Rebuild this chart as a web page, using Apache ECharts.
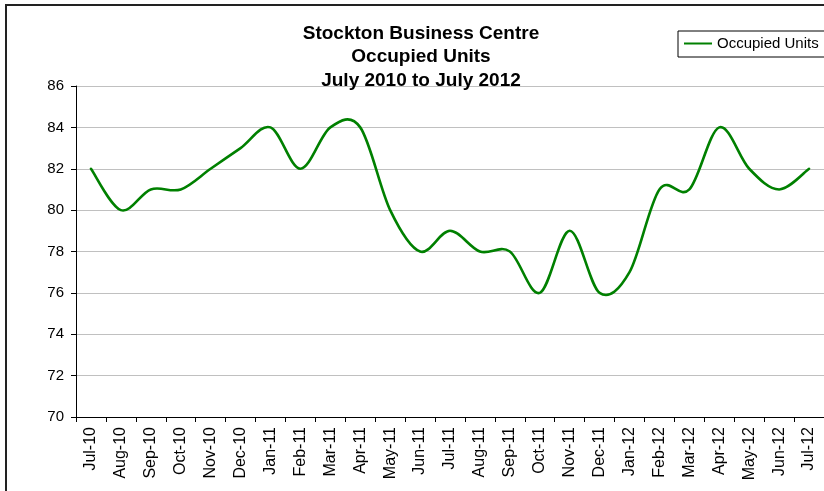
<!DOCTYPE html>
<html>
<head>
<meta charset="utf-8">
<script src="https://cdn.jsdelivr.net/npm/echarts@6/dist/echarts.min.js"></script>
<style>html,body{margin:0;padding:0;background:#fff}#c{width:824px;height:491px}</style>
</head>
<body>
<div id="c"></div>
<script>
var categories = ["Jul-10","Aug-10","Sep-10","Oct-10","Nov-10","Dec-10","Jan-11","Feb-11","Mar-11","Apr-11","May-11","Jun-11","Jul-11","Aug-11","Sep-11","Oct-11","Nov-11","Dec-11","Jan-12","Feb-12","Mar-12","Apr-12","May-12","Jun-12","Jul-12"];
var occupiedUnits = [82,80,81,81,82,83,84,82,84,84,80,78,79,78,78,76,79,76,77,81,81,84,82,81,82];
var yTicks = {min:70, max:86, interval:2};
var titleLines = ["Stockton Business Centre","Occupied Units","July 2010 to July 2012"];
var seriesName = "Occupied Units";

var chart = echarts.init(document.getElementById('c'), null, {renderer:'canvas'});
var font = 'Arial, "Liberation Sans", sans-serif';
var lineColor = '#008000';

// Excel-style smoothed line (Catmull-Rom bezier), points placed through the axes via api.coord
function renderSmooth(params, api) {
  if (params.dataIndex !== 0) return null;
  var pts = occupiedUnits.map(function (v, i) { return api.coord([i, v]); });
  var n = pts.length;
  var d = 'M' + pts[0][0] + ' ' + pts[0][1];
  for (var i = 0; i < n - 1; i++) {
    var p0 = pts[Math.max(i - 1, 0)], p1 = pts[i], p2 = pts[i + 1], p3 = pts[Math.min(i + 2, n - 1)];
    var c1x = p1[0] + (p2[0] - p0[0]) / 6, c1y = p1[1] + (p2[1] - p0[1]) / 6;
    var c2x = p2[0] - (p3[0] - p1[0]) / 6, c2y = p2[1] - (p3[1] - p1[1]) / 6;
    d += ' C' + c1x + ' ' + c1y + ' ' + c2x + ' ' + c2y + ' ' + p2[0] + ' ' + p2[1];
  }
  return {
    type: 'path',
    shape: { pathData: d },
    style: { fill: 'none', stroke: lineColor, lineWidth: 2.6, lineJoin: 'round', lineCap: 'round' },
    silent: true
  };
}

chart.setOption({
  animation:false,
  backgroundColor:'#fff',
  graphic:[{type:'rect', shape:{x:6,y:5,width:840,height:500}, style:{fill:'none',stroke:'#222',lineWidth:2}, silent:true, z:100}],
  title:{
    text: titleLines.join('\n'),
    left: 416, top: 17, textAlign:'center',
    textStyle:{fontFamily:font, fontWeight:'bold', fontSize:19, color:'#000', lineHeight:23.5}
  },
  legend:{
    left: 678, top: 31,
    itemWidth: 28, itemHeight: 2, itemGap: 10,
    padding:[5,8,6,6],
    borderColor:'#000', borderWidth:1,
    icon:'rect',
    textStyle:{fontFamily:font, fontSize:15, color:'#000'},
    data:[{name:seriesName, itemStyle:{color:lineColor}}]
  },
  grid:{left:76, top:86, right:-4, bottom:74, containLabel:false},
  xAxis:{
    type:'category', data:categories, boundaryGap:true,
    axisLine:{lineStyle:{color:'#000', width:1}},
    axisTick:{show:true, interval:0, alignWithLabel:false, length:5, lineStyle:{color:'#000'}},
    axisLabel:{interval:0, rotate:90, fontFamily:font, fontSize:16, color:'#000', margin:10},
    splitLine:{show:false}
  },
  yAxis:{
    type:'value', min:yTicks.min, max:yTicks.max, interval:yTicks.interval,
    axisLine:{show:true, lineStyle:{color:'#000', width:1}},
    axisTick:{show:true, length:5, lineStyle:{color:'#000'}},
    axisLabel:{fontFamily:font, fontSize:15, color:'#000', margin:12},
    splitLine:{lineStyle:{color:'#c0c0c0', width:1}}
  },
  series:[{
    name: seriesName, type:'custom',
    data: occupiedUnits.map(function (v, i) { return [i, v]; }),
    encode:{x:0, y:1},
    renderItem: renderSmooth,
    itemStyle:{color:lineColor}
  }]
});
</script>
</body>
</html>
